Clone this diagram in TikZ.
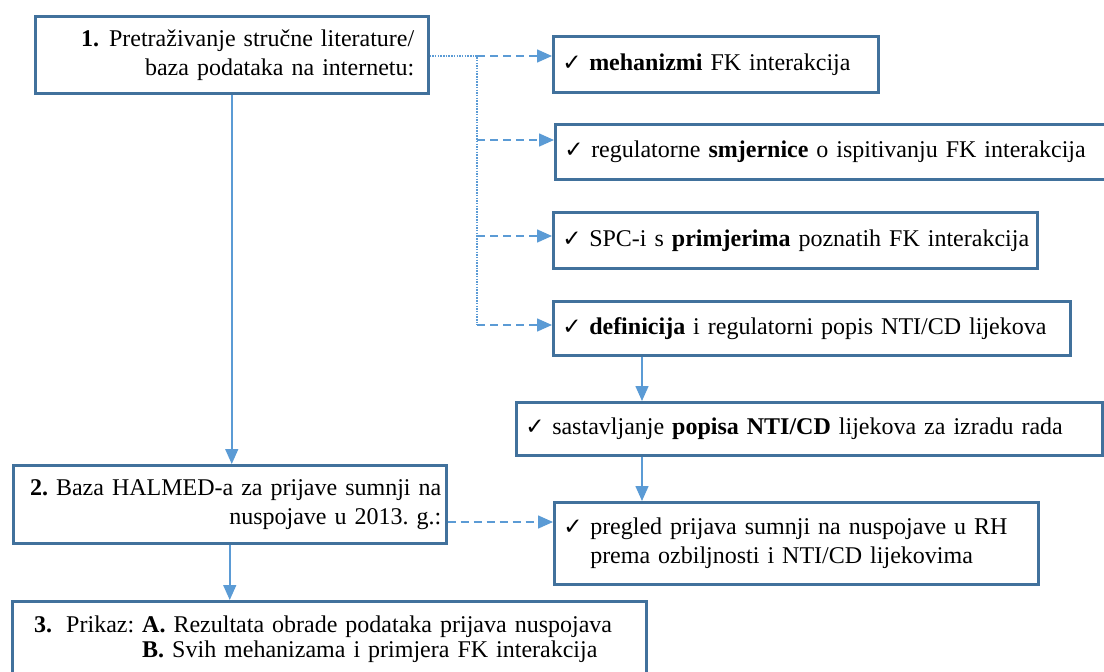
\documentclass[tikz,border=0pt]{standalone}
\usepackage{fontspec}
\setmainfont{Liberation Serif}
\newfontfamily\checkfont{DejaVu Sans}
\usetikzlibrary{arrows.meta}
\frenchspacing

\definecolor{boxblue}{HTML}{41719C}
\definecolor{arrblue}{HTML}{5B9BD5}
\newcommand{\chk}{\makebox[27pt][l]{\checkfont\fontsize{23}{23}\selectfont ✓}}

\tikzset{
  box/.style={draw=boxblue, line width=2.5pt, fill=white, anchor=north west,
    inner xsep=9pt, inner ysep=0pt, align=left},
  link/.style={draw=arrblue, line width=1.5pt, -{Triangle[width=13pt,length=15pt]}},
  dashlink/.style={link, dash pattern=on 8pt off 5pt},
  dotlink/.style={draw=arrblue, line width=1.5pt, dash pattern=on 1.5pt off 1.2pt},
}

\begin{document}
\begin{tikzpicture}[x=1pt, y=-1pt, font=\fontsize{24}{29}\selectfont]
    \useasboundingbox (0,0) rectangle (1104,672);

    % left column
    \node (b1) at (34,15) [box, text width=365pt, inner xsep=14pt, minimum height=77pt, align=right]
      {\textbf{1.}\hspace{10pt}Pretraživanje stručne literature/\\ baza podataka na internetu:};
    \node (b2) at (12,464) [box, text width=423pt, inner xsep=5pt, minimum height=78pt, align=right]
      {\textbf{2.}\hspace{8pt}Baza HALMED-a za prijave sumnji na\\ nuspojave u 2013. g.:};
    \node (b3) at (11,600) [box, text width=590pt, inner xsep=22pt, minimum height=76pt]
      {\textbf{3.}\hspace{14pt}Prikaz: \textbf{A.} Rezultata obrade podataka prijava nuspojava\\[-4pt]
       \phantom{\textbf{3.}\hspace{14pt}Prikaz: }\textbf{B.} Svih mehanizama i primjera FK interakcija};

    % right column
    \node (meh) at (552,35) [box, text width=307pt, minimum height=56pt]
      {\chk\mbox{\textbf{mehanizmi} FK interakcija}};
    \node (smj) at (554,123) [box, text width=560pt, minimum height=55pt]
      {\chk\mbox{regulatorne \textbf{smjernice} o ispitivanju FK interakcija}};
    \node (spc) at (552,211) [box, text width=466pt, minimum height=56pt]
      {\chk\mbox{SPC-i s \textbf{primjerima} poznatih FK interakcija}};
    \node (def) at (552,300) [box, text width=499pt, minimum height=54pt]
      {\chk\mbox{\textbf{definicija} i regulatorni popis NTI/CD lijekova}};
    \node (sast) at (515,401) [box, text width=568pt, minimum height=53pt]
      {\chk\mbox{sastavljanje \textbf{popisa NTI/CD} lijekova za izradu rada}};
    \node (preg) at (553,501) [box, text width=466pt, minimum height=82pt]
      {\chk pregled prijava sumnji na nuspojave u RH\\ \hspace*{27pt}prema ozbiljnosti i NTI/CD lijekovima};

    % main flow
    \draw[link] (b1.south) -- (b1.south |- b2.north);
    \draw[link] (b2.south) -- (b2.south |- b3.north);

    \coordinate (k) at (642,0);
    \draw[link] (def.south -| k) -- (sast.north -| k);
    \draw[link] (sast.south -| k) -- (preg.north -| k);

    % branches from the literature search
    \coordinate (j1) at (477,56);
    \coordinate (j2) at (477,140);
    \coordinate (j3) at (477,236);
    \coordinate (j4) at (477,325);
    \draw[dotlink] (b1.east |- j1) -- (j1) -- (j4);
    \foreach \j/\n in {j1/meh, j2/smj, j3/spc, j4/def} {
      \draw[dashlink] (\j) -- (\j -| \n.west);
    }

    \coordinate (j5) at (500,522);
    \draw[dashlink] (b2.east |- j5) -- (j5 -| preg.west);
\end{tikzpicture}
\end{document}
